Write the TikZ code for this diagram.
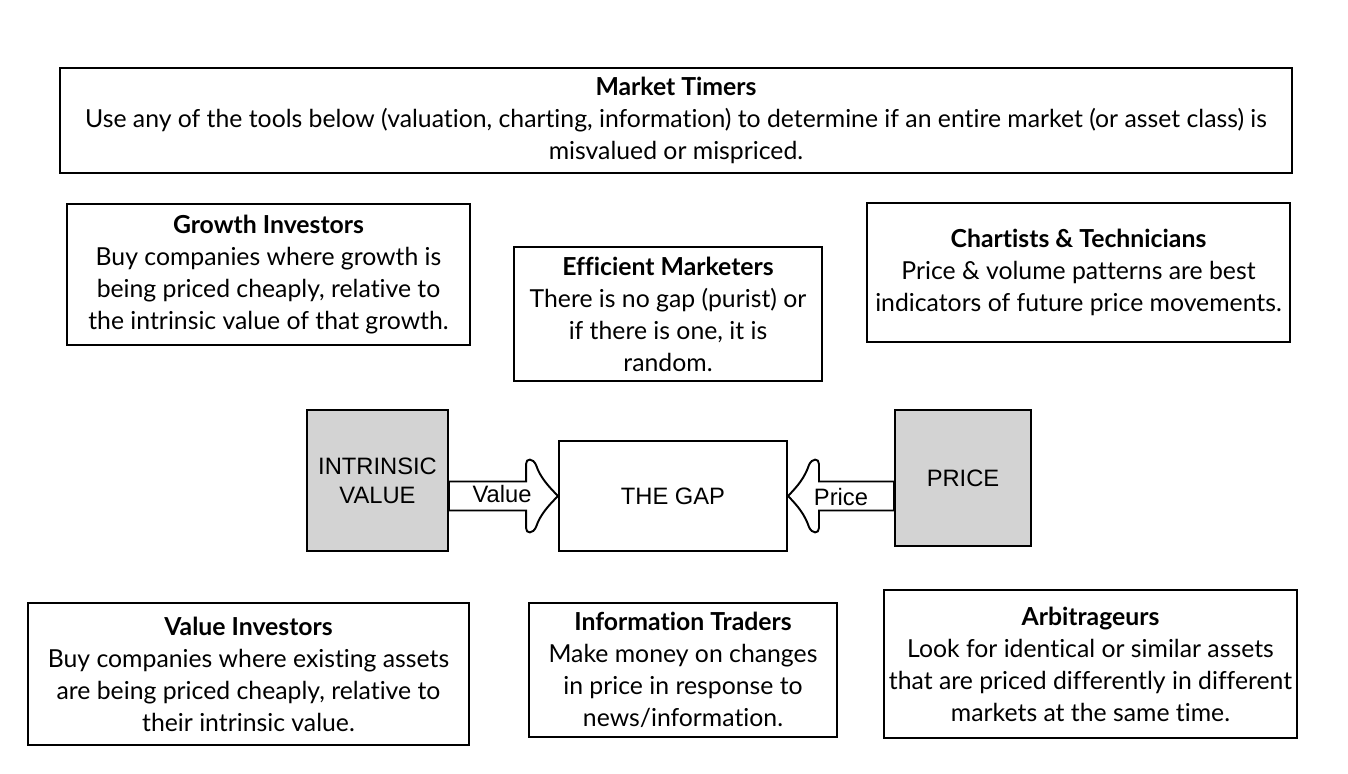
\documentclass[tikz,border=0pt]{standalone}
\usepackage{fontspec}
\setmainfont{Lato}[Ligatures = NoCommon]
\newfontfamily\arialfont{Liberation Sans}
\usepackage{xcolor}
\definecolor{boxGrey}{HTML}{D3D3D3}
\usetikzlibrary{positioning}
\usetikzlibrary{calc}

\begin{document}
\begin{tikzpicture}[box/.style = {rectangle, draw = black, line width = 1.1pt, fill = white, align = center, inner sep = 0pt, font = \fontsize{14.1}{18.2}\selectfont},
	greybox/.style = {rectangle, draw = black, line width = 1.1pt, fill = boxGrey, align = center, inner sep = 0pt, font = \arialfont\fontsize{13.5}{16.5}\selectfont},
	gaparrow/.style = {draw = black, line width = 1.1pt, fill = white, line join = miter},
	arrowlabel/.style = {font = \arialfont\fontsize{13.5}{16}\selectfont, inner sep = 0pt}]
	\useasboundingbox (0, 0) rectangle (26.96, -15.48);

	%% Top row
	\node[box, minimum width = 24.64cm, minimum height = 2.10cm] (timers) at (13.52, -2.41) {\textbf{Market Timers}\\Use any of the tools below (valuation, charting, information) to determine if an entire market (or asset class) is\\misvalued or mispriced.};

	%% Second row
	\node[box, minimum width = 8.06cm, minimum height = 2.82cm] (growth) at (5.37, -5.49) {\textbf{Growth Investors}\\Buy companies where growth is\\being priced cheaply, relative to\\the intrinsic value of that growth.};
	\node[box, minimum width = 6.16cm, minimum height = 2.68cm] (efficient) at (13.36, -6.28) {\textbf{Efficient Marketers}\\There is no gap (purist) or\\if there is one, it is\\random.};
	\node[box, minimum width = 8.46cm, minimum height = 2.78cm] (chartists) at (21.57, -5.45) {\textbf{Chartists \& Technicians}\\Price \& volume patterns are best\\indicators of future price movements.};

	%% Middle row
	\node[greybox, minimum width = 2.82cm, minimum height = 2.82cm] (intrinsic) at (7.55, -9.61) {INTRINSIC\\VALUE};
	\node[box, minimum width = 4.56cm, minimum height = 2.20cm, font = \arialfont\fontsize{13.5}{16}\selectfont] (gap) at (13.46, -9.92) {THE GAP};
	\node[greybox, minimum width = 2.72cm, minimum height = 2.72cm] (price) at (19.26, -9.56) {PRICE};

	%% Bottom row
	\node[box, minimum width = 8.82cm, minimum height = 2.84cm] (valueinv) at (4.97, -13.48) {\textbf{Value Investors}\\Buy companies where existing assets\\are being priced cheaply, relative to\\their intrinsic value.};
	\node[box, minimum width = 6.16cm, minimum height = 2.68cm] (info) at (13.66, -13.40) {\textbf{Information Traders}\\Make money on changes\\in price in response to\\news/information.};
	\node[box, minimum width = 8.26cm, minimum height = 2.96cm] (arbitrage) at (21.81, -13.28) {\textbf{Arbitrageurs}\\Look for identical or similar assets\\that are priced differently in different\\markets at the same time.};

	%% Arrows...
	% ... value into the gap
	\begin{scope}[shift = {(gap.west)}]
		\draw[gaparrow] (intrinsic.east |- 0,0.29) -- (-0.64, 0.29) -- (-0.64, 0.64) .. controls (-0.64, 0.76) and (-0.50, 0.76) .. (-0.44, 0.62) .. controls (-0.36, 0.38) and (-0.20, 0.20) .. (0, 0) .. controls (-0.20, -0.20) and (-0.36, -0.38) .. (-0.44, -0.62) .. controls (-0.50, -0.76) and (-0.64, -0.76) .. (-0.64, -0.64) -- (-0.64, -0.29) -- (intrinsic.east |- 0,-0.29) -- cycle;
	\end{scope}
	% ... price into the gap
	\begin{scope}[shift = {(gap.east)}, xscale = -1]
		\draw[gaparrow] (price.west |- 0,0.29) -- (-0.62, 0.29) -- (-0.62, 0.64) .. controls (-0.62, 0.76) and (-0.48, 0.76) .. (-0.42, 0.62) .. controls (-0.34, 0.38) and (-0.20, 0.20) .. (0, 0) .. controls (-0.20, -0.20) and (-0.34, -0.38) .. (-0.42, -0.62) .. controls (-0.48, -0.76) and (-0.62, -0.76) .. (-0.62, -0.64) -- (-0.62, -0.29) -- (price.west |- 0,-0.29) -- cycle;
	\end{scope}

	\node[arrowlabel] (valuetext) at ($(gap.west) + (-1.12, 0.03)$) {Value};
	\node[arrowlabel] (pricetext) at ($(gap.east) + (1.06, -0.02)$) {Price};
\end{tikzpicture}
\end{document}
